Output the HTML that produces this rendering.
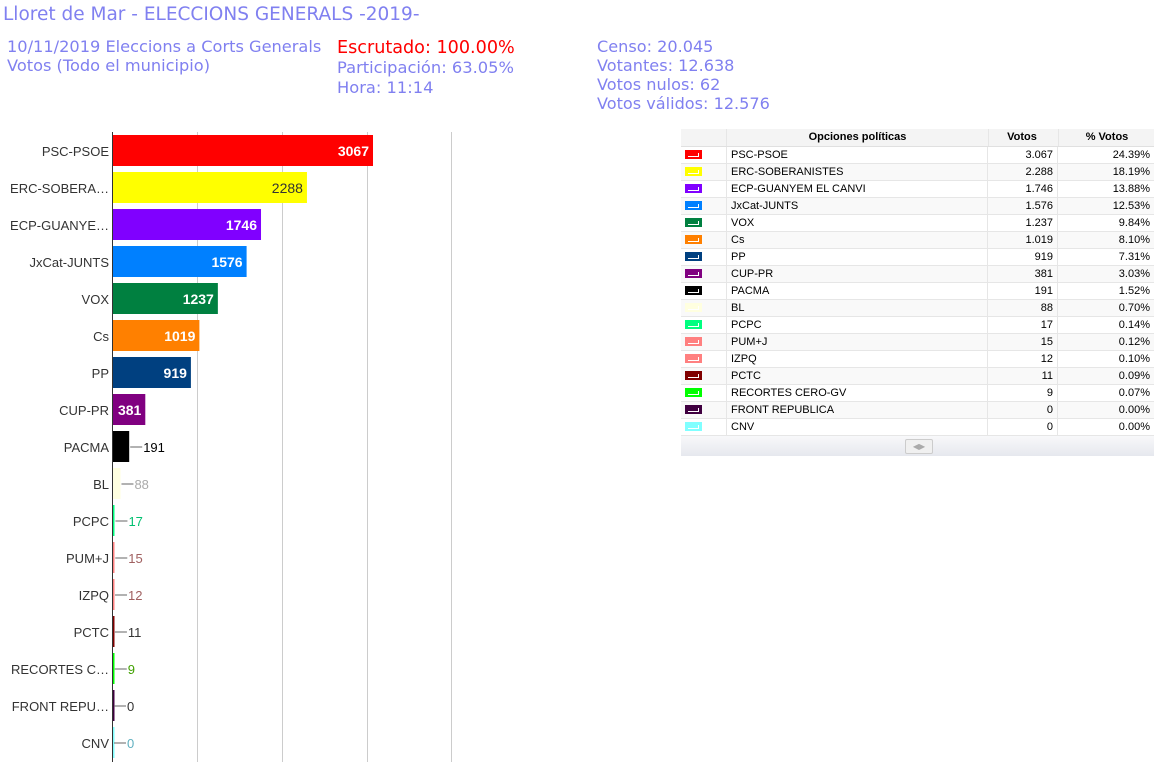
<!DOCTYPE html>
<html><head><meta charset="utf-8"><style>
body{margin:0;width:1158px;height:771px;background:#fff;font-family:"Liberation Sans",sans-serif;position:relative;overflow:hidden}
.h{position:absolute;color:#8080f0;font-family:"DejaVu Sans","Liberation Sans",sans-serif;white-space:nowrap}
.t{position:absolute;left:681px;top:129px;width:473px;font-size:11px;color:#000}
.r{position:absolute;left:0;width:473px;height:17px;border-bottom:1px solid #e6e6e6;box-sizing:border-box}
.r div{position:absolute;top:2px}
.sw{position:absolute;left:4px;top:3px!important;width:17px;height:9px}
.sw i{position:absolute;left:3px;right:3px;bottom:2px;height:1px;background:#fff}
.sw b{position:absolute;right:3px;bottom:2px;width:1px;height:4px;background:#fff}
</style></head><body>
<div class="h" style="left:3px;top:4px;font-size:18.5px">Lloret de Mar - ELECCIONS GENERALS -2019-</div>
<div class="h" style="left:7px;top:37px;font-size:16.2px;line-height:19px">10/11/2019 Eleccions a Corts Generals<br>Votos (Todo el municipio)</div>
<div class="h" style="left:337px;top:38px;font-size:16.3px;line-height:20px"><span style="color:#f00;font-size:17.6px">Escrutado: 100.00%</span><br>Participación: 63.05%<br>Hora: 11:14</div>
<div class="h" style="left:597px;top:37px;font-size:16.1px;line-height:19px">Censo: 20.045<br>Votantes: 12.638<br>Votos nulos: 62<br>Votos válidos: 12.576</div>

<svg style="position:absolute;left:0;top:0" width="680" height="771" font-family="Liberation Sans,sans-serif" font-size="13">
<g stroke="#ccc" stroke-width="1"><line x1="197.5" y1="132" x2="197.5" y2="762"/><line x1="282.5" y1="132" x2="282.5" y2="762"/><line x1="367.5" y1="132" x2="367.5" y2="762"/><line x1="451.5" y1="132" x2="451.5" y2="762"/></g>
<g id="bars"></g>
<line x1="112.5" y1="132" x2="112.5" y2="762" stroke="#333"/>
</svg>

<div class="t">
<div style="position:absolute;left:0;top:0;width:473px;height:17px;background:#f4f4f4;border-bottom:1px solid #e0e0e0"></div>
<div style="position:absolute;left:45px;top:0;width:261px;height:17px;border-left:1px solid #e6e6e6;border-right:1px solid #e6e6e6;text-align:center;font-weight:bold;line-height:17px">Opciones políticas</div>
<div style="position:absolute;left:306px;top:0;width:70px;text-align:center;font-weight:bold;line-height:17px">Votos</div>
<div style="position:absolute;left:377px;top:0;width:96px;border-left:1px solid #e6e6e6;text-align:center;font-weight:bold;line-height:17px">% Votos</div>
<div id="rows"></div>
<div style="position:absolute;left:0;top:307px;width:473px;height:20px;background:linear-gradient(#f8f8fa,#e6e8ee)"><div style="position:absolute;left:224px;top:3px;width:26px;height:13px;border:1px solid #ccc;border-radius:2px;background:#f0f0f0;font-size:8px;color:#aaa;text-align:center;line-height:13px">◀▶</div></div>
</div>

<script>
var d=[["PSC-PSOE","PSC-PSOE",3067,"3.067","24.39%","#ff0000","#fff"],
["ERC-SOBERA…","ERC-SOBERANISTES",2288,"2.288","18.19%","#ffff00","#333"],
["ECP-GUANYE…","ECP-GUANYEM EL CANVI",1746,"1.746","13.88%","#8000ff","#fff"],
["JxCat-JUNTS","JxCat-JUNTS",1576,"1.576","12.53%","#0080ff","#fff"],
["VOX","VOX",1237,"1.237","9.84%","#008040","#fff"],
["Cs","Cs",1019,"1.019","8.10%","#ff8000","#fff"],
["PP","PP",919,"919","7.31%","#004080","#fff"],
["CUP-PR","CUP-PR",381,"381","3.03%","#800080","#fff"],
["PACMA","PACMA",191,"191","1.52%","#000000","#000"],
["BL","BL",88,"88","0.70%","#ffffe0","#aaa"],
["PCPC","PCPC",17,"17","0.14%","#00ff80","#00c070"],
["PUM+J","PUM+J",15,"15","0.12%","#ff8080","#a06060"],
["IZPQ","IZPQ",12,"12","0.10%","#ff8080","#a06060"],
["PCTC","PCTC",11,"11","0.09%","#800000","#333"],
["RECORTES C…","RECORTES CERO-GV",9,"9","0.07%","#00ff00","#40a000"],
["FRONT REPU…","FRONT REPUBLICA",0,"0","0.00%","#400040","#333"],
["CNV","CNV",0,"0","0.00%","#80ffff","#60b0c0"]];
var s="",t="",k=(373-113)/3067;
d.forEach(function(r,i){var cy=151+37*i,w=r[2]*k;
s+='<text x="109" y="'+(cy+5)+'" text-anchor="end" fill="#333">'+r[0]+'</text>';
s+='<rect x="113" y="'+(cy-16)+'" width="'+Math.max(w,1.5)+'" height="31" fill="'+r[5]+'"/>';
if(i<8){s+='<text x="'+(113+w-4)+'" y="'+(cy+5)+'" text-anchor="end" fill="'+r[6]+'" font-size="14" font-weight="'+(i==1?'normal':'bold')+'">'+r[2]+'</text>';}
else{var e=113+w+1;s+='<line x1="'+e+'" y1="'+cy+'" x2="'+(e+12)+'" y2="'+cy+'" stroke="#666"/><text x="'+(e+13)+'" y="'+(cy+5)+'" fill="'+r[6]+'" font-size="13">'+r[2]+'</text>';}
var y=18+17*i;
t+='<div class="r" style="top:'+y+'px;background:'+(i%2?'#f9f9f9':'#fff')+'"><div class="sw" style="background:'+r[5]+'"><i></i><b></b></div><div style="left:45px;top:0;height:17px;border-left:1px solid #e6e6e6;border-right:1px solid #e6e6e6;width:260px"></div><div style="left:50px">'+r[1]+'</div><div style="left:306px;width:66px;text-align:right">'+r[3]+'</div><div style="left:376px;top:0;height:17px;border-left:1px solid #e6e6e6;width:1px"></div><div style="left:377px;width:92px;text-align:right">'+r[4]+'</div></div>';});
document.getElementById('bars').innerHTML=s;
document.getElementById('rows').innerHTML=t;
</script>
</body></html>
